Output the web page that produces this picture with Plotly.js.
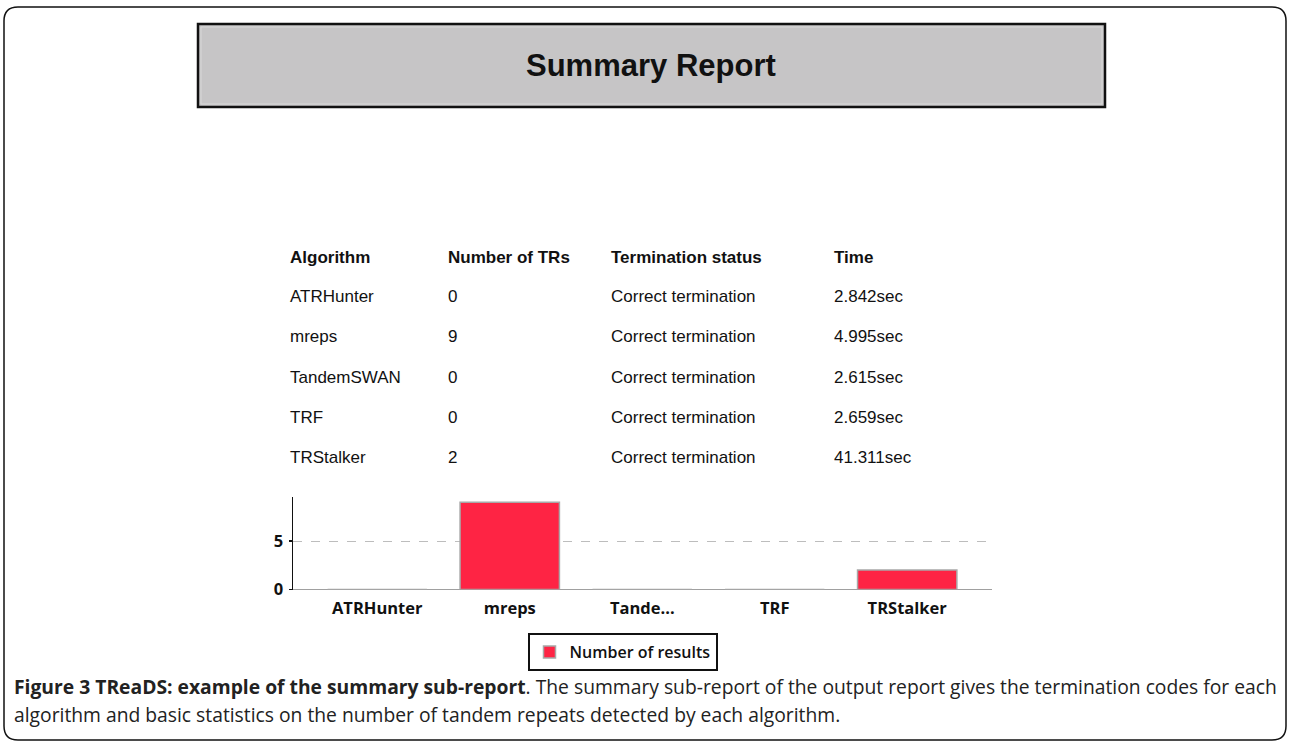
<!DOCTYPE html>
<html>
<head>
<meta charset="utf-8">
<script src="https://cdn.plot.ly/plotly-3.0.1.min.js"></script>
<style>
  html, body { margin: 0; padding: 0; background: #ffffff; }
  #chart { width: 1290px; height: 741px; }
</style>
</head>
<body>
<div id="chart"></div>
<script>
// ---- data ----
const tableHeaders = ['Algorithm', 'Number of TRs', 'Termination status', 'Time'];
const algorithms = ['ATRHunter', 'mreps', 'TandemSWAN', 'TRF', 'TRStalker'];
const numTRs = [0, 9, 0, 0, 2];
const terminationStatus = ['Correct termination', 'Correct termination', 'Correct termination', 'Correct termination', 'Correct termination'];
const times = ['2.842sec', '4.995sec', '2.615sec', '2.659sec', '41.311sec'];
const chartCategories = ['ATRHunter', 'mreps', 'Tande...', 'TRF', 'TRStalker'];
const seriesName = 'Number of results';
const yTicks = [0, 5];
const reportTitle = 'Summary Report';
const captionBold = 'Figure 3 TReaDS: example of the summary sub-report';
const captionLine1 = '. The summary sub-report of the output report gives the termination codes for each';
const captionLine2 = 'algorithm and basic statistics on the number of tandem repeats detected by each algorithm.';

// ---- layout helpers (pixel -> paper) ----
const W = 1290, H = 741;
const fx = x => x / W;
const fy = y => 1 - y / H;

const shapes = [];
const annotations = [];

// outer rounded frame
(function () {
  const l = 4, t = 7, r = 1286, b = 740, rad = 14;
  const p = [
    'M', fx(l + rad), fy(t),
    'L', fx(r - rad), fy(t),
    'Q', fx(r), fy(t), fx(r), fy(t + rad),
    'L', fx(r), fy(b - rad),
    'Q', fx(r), fy(b), fx(r - rad), fy(b),
    'L', fx(l + rad), fy(b),
    'Q', fx(l), fy(b), fx(l), fy(b - rad),
    'L', fx(l), fy(t + rad),
    'Q', fx(l), fy(t), fx(l + rad), fy(t),
    'Z'
  ];
  let d = '';
  for (let i = 0; i < p.length; i++) {
    if (typeof p[i] === 'string') d += p[i];
    else { d += p[i].toFixed(6); d += (typeof p[i + 1] === 'number') ? ',' : ' '; }
  }
  shapes.push({ type: 'path', xref: 'paper', yref: 'paper', path: d,
    line: { color: '#111111', width: 1.5 }, layer: 'below' });
})();

// header box
shapes.push({ type: 'rect', xref: 'paper', yref: 'paper',
  x0: fx(198), x1: fx(1105), y0: fy(24), y1: fy(107),
  fillcolor: '#c6c5c6', line: { color: '#111111', width: 2.5 }, layer: 'below' });
shapes.push({ type: 'rect', xref: 'paper', yref: 'paper',
  x0: fx(201), x1: fx(1102), y0: fy(27), y1: fy(104),
  fillcolor: 'rgba(0,0,0,0)', line: { color: '#d8d8d8', width: 1 }, layer: 'below' });

annotations.push({ xref: 'paper', yref: 'paper', x: fx(651), y: fy(65),
  xanchor: 'center', yanchor: 'middle', showarrow: false, text: reportTitle,
  font: { family: 'Liberation Sans, Arial, sans-serif', size: 31, color: '#111111', weight: 'bold' } });

// table
const colX = [288, 446, 609, 832];
const headY = 257;
const rowY = [296, 336, 377, 417, 457];
tableHeaders.forEach((h, i) => {
  annotations.push({ xref: 'paper', yref: 'paper', x: fx(colX[i]), y: fy(headY),
    xanchor: 'left', yanchor: 'middle', showarrow: false, text: h,
    font: { family: 'Liberation Sans, Arial, sans-serif', size: 17, color: '#111111', weight: 'bold' } });
});
algorithms.forEach((a, r) => {
  const cells = [a, String(numTRs[r]), terminationStatus[r], times[r]];
  cells.forEach((c, i) => {
    annotations.push({ xref: 'paper', yref: 'paper', x: fx(colX[i]), y: fy(rowY[r]),
      xanchor: 'left', yanchor: 'middle', showarrow: false, text: c,
      font: { family: 'Liberation Sans, Arial, sans-serif', size: 17, color: '#111111' } });
  });
});

// caption
annotations.push({ xref: 'paper', yref: 'paper', x: fx(12), y: fy(686),
  xanchor: 'left', yanchor: 'middle', showarrow: false, align: 'left',
  text: '<b>' + captionBold + '</b>' + captionLine1,
  font: { family: 'Open Sans, Noto Sans, sans-serif', size: 19.3, color: '#222222' } });
annotations.push({ xref: 'paper', yref: 'paper', x: fx(12), y: fy(714),
  xanchor: 'left', yanchor: 'middle', showarrow: false, align: 'left',
  text: captionLine2,
  font: { family: 'Open Sans, Noto Sans, sans-serif', size: 19.3, color: '#222222' } });

// ---- chart ----
const trace = {
  type: 'bar',
  x: chartCategories,
  y: numTRs,
  name: seriesName,
  marker: { color: '#fe2444', line: { color: '#a8a8a8', width: 1.5 } },
  showlegend: true,
  hoverinfo: 'x+y'
};

const tickFont = { family: 'Open Sans, DejaVu Sans, sans-serif', size: 16.5, color: '#111111', weight: 'bold' };

const layout = {
  width: W, height: H,
  margin: { l: 0, r: 0, t: 0, b: 0, pad: 0 },
  paper_bgcolor: '#ffffff', plot_bgcolor: 'rgba(0,0,0,0)',
  bargap: 0.25,
  showlegend: true,
  xaxis: {
    type: 'category',
    domain: [fx(293), fx(992)],
    range: [-0.636, 4.64],
    showline: false, showgrid: false, zeroline: false,
    ticks: '', tickfont: tickFont, ticklabelstandoff: 7, fixedrange: true
  },
  yaxis: {
    domain: [fy(589.5), fy(496.7)],
    range: [0, 9.57],
    tickvals: yTicks,
    ticktext: yTicks.map(String),
    showline: true, linecolor: '#111111', linewidth: 1.5,
    ticks: 'outside', ticklen: 3, tickcolor: '#111111', tickwidth: 1.5,
    showgrid: true, gridcolor: '#bdbdbd', griddash: 'dash', gridwidth: 1,
    zeroline: true, zerolinecolor: '#a0a0a0', zerolinewidth: 1.5,
    tickfont: tickFont, ticklabelstandoff: 2, fixedrange: true
  },
  legend: {
    x: fx(622.5), xanchor: 'center', y: fy(633), yanchor: 'top',
    bgcolor: '#ffffff', bordercolor: '#111111', borderwidth: 2,
    font: { family: 'Open Sans, DejaVu Sans, sans-serif', size: 16, color: '#111111', weight: 600 },
    itemwidth: 30,
    itemclick: false, itemdoubleclick: false
  },
  shapes: shapes,
  annotations: annotations
};

Plotly.newPlot('chart', [trace], layout, { displayModeBar: false, staticPlot: true });
</script>
</body>
</html>
